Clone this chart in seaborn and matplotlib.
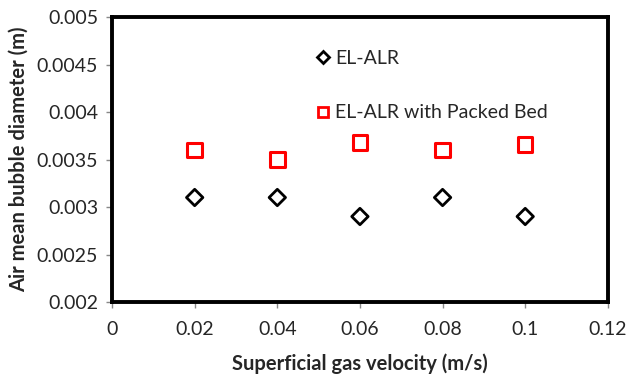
import matplotlib
matplotlib.use("Agg")
import matplotlib.pyplot as plt
import seaborn as sns
import pandas as pd
from matplotlib.lines import Line2D

velocity = [0.02, 0.04, 0.06, 0.08, 0.1]
el_alr = [0.0031, 0.0031, 0.0029, 0.0031, 0.0029]
el_alr_packed = [0.0036, 0.0035, 0.00368, 0.0036, 0.00366]
series_names = ["EL-ALR", "EL-ALR with Packed Bed"]
xticks = [0, 0.02, 0.04, 0.06, 0.08, 0.1, 0.12]
yticks = [0.002, 0.0025, 0.003, 0.0035, 0.004, 0.0045, 0.005]

sns.set_style("white")
plt.rcParams['font.family'] = ['Lato', 'DejaVu Sans']

df = pd.DataFrame({
    "v": velocity * 2,
    "d": el_alr + el_alr_packed,
    "series": [series_names[0]] * len(velocity) + [series_names[1]] * len(velocity),
})

fig = plt.figure(figsize=(6.26, 3.74), dpi=100)
ax = fig.add_axes([0.179, 0.1925, 0.792, 0.762])

d1 = df[df.series == series_names[0]]
d2 = df[df.series == series_names[1]]
sns.scatterplot(data=d1, x="v", y="d", marker="D", s=70, facecolors="none",
                edgecolor="black", linewidth=2, ax=ax, legend=False)
sns.scatterplot(data=d2, x="v", y="d", marker="s", s=110, facecolors="none",
                edgecolor="red", linewidth=2.2, ax=ax, legend=False)

ax.set_xlim(0, 0.12)
ax.set_ylim(0.002, 0.005)
ax.set_xticks(xticks)
ax.set_xticklabels(["0", "0.02", "0.04", "0.06", "0.08", "0.1", "0.12"])
ax.set_yticks(yticks)
ax.set_yticklabels(["0.002", "0.0025", "0.003", "0.0035", "0.004", "0.0045", "0.005"])
ax.tick_params(axis="both", labelsize=14, direction="out", length=4, width=1,
               color="#888888", pad=6)
ax.tick_params(axis="x", pad=10)
ax.tick_params(bottom=True, left=True)
for s in ax.spines.values():
    s.set_visible(True)
    s.set_color("black")
    s.set_linewidth(2.8)

ax.set_xlabel("Superficial gas velocity (m/s)", fontsize=14.5, fontweight="bold", labelpad=11)
ax.set_ylabel("Air mean bubble diameter (m)", fontsize=14.5, fontweight="bold", labelpad=6)

handles = [
    Line2D([], [], linestyle="none", marker="D", markersize=6, markerfacecolor="none",
           markeredgecolor="black", markeredgewidth=2),
    Line2D([], [], linestyle="none", marker="s", markersize=7, markerfacecolor="none",
           markeredgecolor="red", markeredgewidth=2),
]
ax.legend(handles, series_names, loc="upper left", bbox_to_anchor=(0.395, 0.92),
          frameon=False, fontsize=14, labelspacing=1.95, handlelength=0.6,
          handletextpad=0.3, borderpad=0)

fig.savefig("out.png", dpi=100)
